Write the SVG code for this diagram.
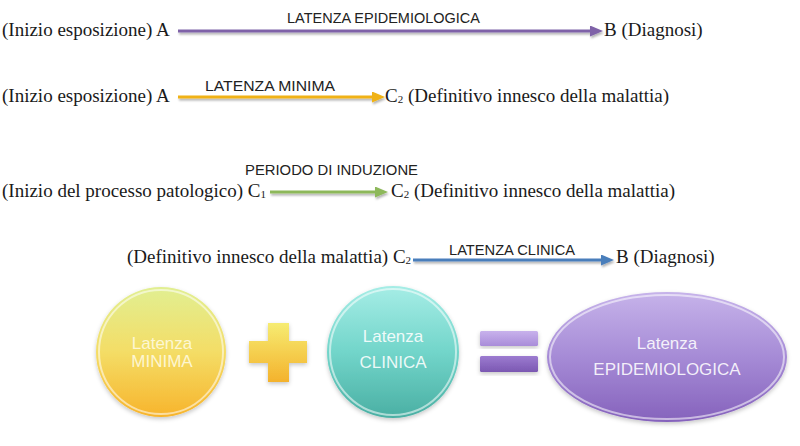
<svg xmlns="http://www.w3.org/2000/svg" width="800" height="446" viewBox="0 0 800 446">
<defs>
<style>
.t{font-family:"Liberation Serif","Times New Roman",serif;font-size:19px;fill:#1a1a1a}
.s{font-size:11px}
.lab{font-family:"Liberation Sans",Arial,sans-serif;font-size:15px;fill:#222}
.in{font-family:"Liberation Sans",Arial,sans-serif;font-size:17px;fill:#ffffff;fill-opacity:0.88;text-anchor:middle}
.ln{stroke-width:3.2;fill:none}
.rim{fill:none;stroke:#ffffff;stroke-opacity:0.55;stroke-width:2}
</style>
<linearGradient id="gY" x1="0" y1="0" x2="0" y2="1">
<stop offset="0" stop-color="#e1ef92"/><stop offset="0.5" stop-color="#f4dd66"/><stop offset="1" stop-color="#f7b42c"/>
</linearGradient>
<linearGradient id="gT" x1="0" y1="0" x2="0" y2="1">
<stop offset="0" stop-color="#a6ede6"/><stop offset="0.5" stop-color="#72d5ca"/><stop offset="1" stop-color="#4aafa3"/>
</linearGradient>
<linearGradient id="gP" x1="0" y1="0" x2="0" y2="1">
<stop offset="0" stop-color="#c6b3ea"/><stop offset="0.5" stop-color="#a68bd6"/><stop offset="1" stop-color="#8562bc"/>
</linearGradient>
<linearGradient id="gPlus" x1="0" y1="0" x2="0" y2="1">
<stop offset="0" stop-color="#f6ec72"/><stop offset="1" stop-color="#f4b22c"/>
</linearGradient>
<linearGradient id="gE1" x1="0" y1="0" x2="0" y2="1">
<stop offset="0" stop-color="#c8b2ec"/><stop offset="1" stop-color="#a98cd9"/>
</linearGradient>
<linearGradient id="gE2" x1="0" y1="0" x2="0" y2="1">
<stop offset="0" stop-color="#9c7bd0"/><stop offset="1" stop-color="#7b58b2"/>
</linearGradient>
<filter id="sh" x="-20%" y="-20%" width="140%" height="140%">
<feDropShadow dx="0" dy="2" stdDeviation="2" flood-color="#000" flood-opacity="0.22"/>
</filter>
<filter id="ash" x="-5%" y="-100%" width="110%" height="300%">
<feDropShadow dx="1" dy="2" stdDeviation="1.2" flood-color="#000" flood-opacity="0.3"/>
</filter>
<marker id="mP" markerUnits="userSpaceOnUse" markerWidth="13" markerHeight="11" refX="0" refY="5.5" orient="auto"><path d="M0,0 L13,5.5 L0,11 z" fill="#7f62a8"/></marker>
<marker id="mY" markerUnits="userSpaceOnUse" markerWidth="13" markerHeight="11" refX="0" refY="5.5" orient="auto"><path d="M0,0 L13,5.5 L0,11 z" fill="#f0b212"/></marker>
<marker id="mG" markerUnits="userSpaceOnUse" markerWidth="13" markerHeight="11" refX="0" refY="5.5" orient="auto"><path d="M0,0 L13,5.5 L0,11 z" fill="#8db85a"/></marker>
<marker id="mB" markerUnits="userSpaceOnUse" markerWidth="13" markerHeight="11" refX="0" refY="5.5" orient="auto"><path d="M0,0 L13,5.5 L0,11 z" fill="#4a7ebb"/></marker>
</defs>
<rect width="800" height="446" fill="#ffffff"/>

<g id="connectors">
<g filter="url(#ash)">
<line class="ln" x1="178" y1="31" x2="590" y2="31" stroke="#7f62a8" marker-end="url(#mP)"/>
<line class="ln" x1="178" y1="97" x2="372" y2="97" stroke="#f0b212" marker-end="url(#mY)"/>
<line class="ln" x1="270" y1="192" x2="375" y2="192" stroke="#8db85a" marker-end="url(#mG)"/>
<line class="ln" x1="413" y1="260" x2="601" y2="260" stroke="#4a7ebb" marker-end="url(#mB)"/>
</g>
<text class="lab" x="287" y="23" textLength="193" lengthAdjust="spacingAndGlyphs">LATENZA EPIDEMIOLOGICA</text>
<text class="lab" x="205" y="91" textLength="130" lengthAdjust="spacingAndGlyphs">LATENZA MINIMA</text>
<text class="lab" x="245" y="175" textLength="173" lengthAdjust="spacingAndGlyphs">PERIODO DI INDUZIONE</text>
<text class="lab" x="449" y="255" textLength="126" lengthAdjust="spacingAndGlyphs">LATENZA CLINICA</text>
</g>

<g id="row1-start"><text class="t" x="2" y="36">(Inizio esposizione) A</text></g>
<g id="row1-end"><text class="t" x="604" y="36">B (Diagnosi)</text></g>
<g id="row2-start"><text class="t" x="2" y="102">(Inizio esposizione) A</text></g>
<g id="row2-end"><text class="t" x="385" y="102">C<tspan class="s" dy="1">2</tspan><tspan dy="-1"> (Definitivo innesco della malattia)</tspan></text></g>
<g id="row3-start"><text class="t" x="2" y="197">(Inizio del processo patologico) C<tspan class="s" dy="1">1</tspan></text></g>
<g id="row3-end"><text class="t" x="391" y="197">C<tspan class="s" dy="1">2</tspan><tspan dy="-1"> (Definitivo innesco della malattia)</tspan></text></g>
<g id="row4-start"><text class="t" x="127" y="263">(Definitivo innesco della malattia) C<tspan class="s" dy="1">2</tspan></text></g>
<g id="row4-end"><text class="t" x="616" y="263">B (Diagnosi)</text></g>

<g id="latenza-minima">
<circle cx="161" cy="352" r="65" fill="url(#gY)" filter="url(#sh)"/>
<circle class="rim" cx="161" cy="352" r="62"/>
<text class="in" x="162" y="349" style="fill:#fffbe2">Latenza</text>
<text class="in" x="162" y="367" style="fill:#fffbe2">MINIMA</text>
</g>

<g id="plus">
<path d="M268,323 h21 v18 h18 v22 h-18 v19 h-21 v-19 h-19 v-22 h19 z" fill="url(#gPlus)" filter="url(#sh)"/>
</g>

<g id="latenza-clinica">
<circle cx="393" cy="352" r="66" fill="url(#gT)" filter="url(#sh)"/>
<circle class="rim" cx="393" cy="352" r="63"/>
<text class="in" x="393" y="342">Latenza</text>
<text class="in" x="393" y="368">CLINICA</text>
</g>

<g id="equals">
<rect x="480" y="331" width="58" height="15" rx="1.5" fill="url(#gE1)" filter="url(#sh)"/>
<rect x="480" y="356" width="58" height="16" rx="1.5" fill="url(#gE2)" filter="url(#sh)"/>
</g>

<g id="latenza-epidemiologica">
<ellipse cx="667" cy="357" rx="120" ry="65" fill="url(#gP)" filter="url(#sh)"/>
<ellipse class="rim" cx="667" cy="357" rx="117" ry="62"/>
<text class="in" x="667" y="349">Latenza</text>
<text class="in" x="667" y="375">EPIDEMIOLOGICA</text>
</g>
</svg>
